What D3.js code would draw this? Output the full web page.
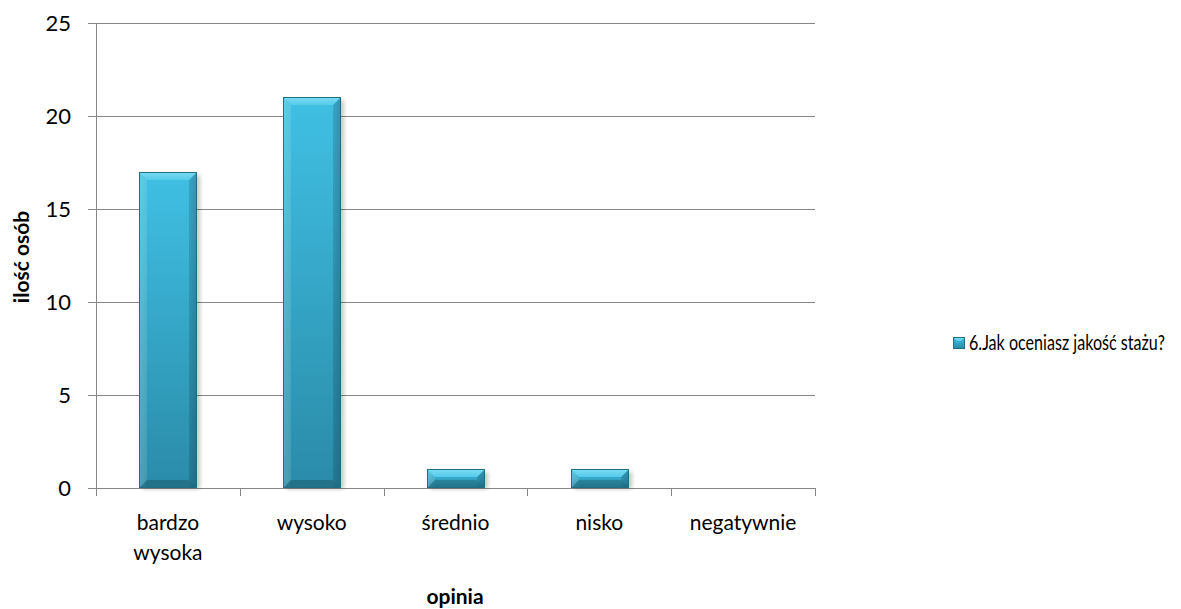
<!DOCTYPE html>
<html>
<head>
<meta charset="utf-8">
<script src="https://cdn.jsdelivr.net/npm/d3@7"></script>
<style>
  html, body { margin: 0; padding: 0; background: #fff; }
  svg { display: block; font-family: Lato, "Open Sans", sans-serif; }
</style>
</head>
<body>
<svg id="chart" width="1181" height="609"></svg>
<script>
// Survey answers: "6.Jak oceniasz jakość stażu?"
const categories = [["bardzo", "wysoka"], ["wysoko"], ["średnio"], ["nisko"], ["negatywnie"]];
const values = [17, 21, 1, 1, 0];
const yTicks = [0, 5, 10, 15, 20, 25];
const seriesName = "6.Jak oceniasz jakość stażu?";
const yTitle = "ilość osób";
const xTitle = "opinia";

const svg = d3.select("#chart");
const plotLeft = 96, plotRight = 815, plotTop = 23, plotBottom = 488;
const fontSize = 21;

const keys = categories.map(c => c.join(" "));
const x = d3.scaleBand().domain(keys).range([plotLeft, plotRight]).paddingInner(0.6).paddingOuter(0.3);
const y = d3.scaleLinear().domain([0, 25]).range([plotBottom, plotTop]);

const defs = svg.append("defs");
const body = defs.append("linearGradient").attr("id", "barBody").attr("x1", 0).attr("y1", 0).attr("x2", 0).attr("y2", 1);
body.append("stop").attr("offset", "0%").attr("stop-color", "#40c0e4");
body.append("stop").attr("offset", "100%").attr("stop-color", "#2a8ba8");
const side = defs.append("linearGradient").attr("id", "barSide").attr("x1", 0).attr("y1", 0).attr("x2", 1).attr("y2", 0);
side.append("stop").attr("offset", "0%").attr("stop-color", "#ffffff").attr("stop-opacity", 0.10);
side.append("stop").attr("offset", "15%").attr("stop-color", "#ffffff").attr("stop-opacity", 0);
side.append("stop").attr("offset", "85%").attr("stop-color", "#000000").attr("stop-opacity", 0);
side.append("stop").attr("offset", "100%").attr("stop-color", "#000000").attr("stop-opacity", 0.12);
const topFace = defs.append("linearGradient").attr("id", "barTop").attr("x1", 0).attr("y1", 0).attr("x2", 0).attr("y2", 1);
topFace.append("stop").attr("offset", "0%").attr("stop-color", "#7fdcf3");
topFace.append("stop").attr("offset", "100%").attr("stop-color", "#55cbea");
defs.append("filter").attr("id", "shadow").attr("x", "-20%").attr("y", "-20%").attr("width", "140%").attr("height", "140%")
  .append("feGaussianBlur").attr("stdDeviation", 2);

// gridlines
svg.append("g").selectAll("line").data(yTicks.filter(t => t > 0)).join("line")
  .attr("x1", plotLeft).attr("x2", plotRight)
  .attr("y1", d => Math.round(y(d)) + 0.5).attr("y2", d => Math.round(y(d)) + 0.5)
  .attr("stroke", "#878787").attr("stroke-width", 1);

// y axis
svg.append("line").attr("x1", plotLeft + 0.5).attr("x2", plotLeft + 0.5).attr("y1", plotTop).attr("y2", plotBottom + 0.5)
  .attr("stroke", "#878787");
svg.append("g").selectAll("line").data(yTicks).join("line")
  .attr("x1", plotLeft - 8).attr("x2", plotLeft)
  .attr("y1", d => Math.round(y(d)) + 0.5).attr("y2", d => Math.round(y(d)) + 0.5)
  .attr("stroke", "#878787");
svg.append("g").selectAll("text").data(yTicks).join("text")
  .attr("x", plotLeft - 25).attr("y", d => y(d)).attr("dy", "0.35em")
  .attr("text-anchor", "end").attr("font-size", fontSize + 1).attr("fill", "#000")
  .text(d => d);

// x axis
svg.append("line").attr("x1", plotLeft).attr("x2", plotRight + 0.5)
  .attr("y1", plotBottom + 0.5).attr("y2", plotBottom + 0.5).attr("stroke", "#878787");
const bounds = keys.map(k => x(k) - x.step() * x.paddingInner() / 2).concat([plotRight]);
svg.append("g").selectAll("line").data(bounds).join("line")
  .attr("x1", d => Math.round(d) + 0.5).attr("x2", d => Math.round(d) + 0.5)
  .attr("y1", plotBottom).attr("y2", plotBottom + 8).attr("stroke", "#878787");

const xl = svg.append("g").selectAll("text").data(categories).join("text")
  .attr("text-anchor", "middle").attr("font-size", fontSize).attr("fill", "#000");
xl.each(function (lines, i) {
  const cx = x(keys[i]) + x.bandwidth() / 2;
  d3.select(this).selectAll("tspan").data(lines).join("tspan")
    .attr("x", cx).attr("y", (d, j) => 530 + j * 30).text(d => d);
});

// bars with bevelled faces
const bars = svg.append("g").selectAll("g").data(values.map((v, i) => ({ v, k: keys[i] })).filter(d => d.v > 0)).join("g");
bars.each(function (d) {
  const g = d3.select(this);
  const x0 = Math.round(x(d.k)), w = Math.round(x.bandwidth());
  const y0 = Math.round(y(d.v)), y1 = plotBottom;
  const h = y1 - y0, b = Math.min(8, h / 2.4);
  g.append("rect").attr("x", x0 + 3).attr("y", y0 + 3).attr("width", w).attr("height", h - 2)
    .attr("fill", "#000").attr("opacity", 0.22).attr("filter", "url(#shadow)");
  g.append("rect").attr("x", x0).attr("y", y0).attr("width", w).attr("height", h).attr("fill", "url(#barBody)");
  g.append("rect").attr("x", x0).attr("y", y0).attr("width", w).attr("height", h).attr("fill", "url(#barSide)");
  // left bevel (lighter)
  g.append("polygon").attr("points", [[x0, y0], [x0 + b, y0 + b], [x0 + b, y1 - b], [x0, y1]].join(" "))
    .attr("fill", "#ffffff").attr("opacity", 0.10);
  // right bevel (darker)
  g.append("polygon").attr("points", [[x0 + w, y0], [x0 + w - b, y0 + b], [x0 + w - b, y1 - b], [x0 + w, y1]].join(" "))
    .attr("fill", "#000000").attr("opacity", 0.12);
  // bottom bevel (darkest)
  g.append("polygon").attr("points", [[x0, y1], [x0 + b, y1 - b], [x0 + w - b, y1 - b], [x0 + w, y1]].join(" "))
    .attr("fill", "#000000").attr("opacity", 0.18);
  // top bevel (lightest)
  g.append("polygon").attr("points", [[x0, y0], [x0 + w, y0], [x0 + w - b, y0 + b], [x0 + b, y0 + b]].join(" "))
    .attr("fill", "url(#barTop)");
  g.append("rect").attr("x", x0 + 0.5).attr("y", y0 + 0.5).attr("width", w - 1).attr("height", h - 1)
    .attr("fill", "none").attr("stroke", "#1f6e84").attr("stroke-width", 1);
});

// axis titles
svg.append("text").attr("transform", "translate(29,257) rotate(-90)")
  .attr("text-anchor", "middle").attr("font-size", fontSize).attr("font-weight", "bold").attr("fill", "#000")
  .text(yTitle);
svg.append("text").attr("x", 455).attr("y", 604)
  .attr("text-anchor", "middle").attr("font-size", fontSize).attr("font-weight", "bold").attr("fill", "#000")
  .text(xTitle);

// legend; the label is narrowed horizontally to fit the space right of the marker
const lg = svg.append("g").attr("transform", "translate(953,337)");
lg.append("rect").attr("x", 0.5).attr("y", 0.5).attr("width", 11).attr("height", 11).attr("fill", "url(#barBody)").attr("stroke", "#1f6e84");
lg.append("polygon").attr("points", "1,1 11,1 8,4 4,4").attr("fill", "url(#barTop)");
const lt = lg.append("text").attr("x", 0).attr("y", 0).attr("dy", "0.35em").attr("font-size", 21).attr("fill", "#000")
  .text(seriesName);
const avail = 1165 - 969;
const len = lt.node().getComputedTextLength();
const sx = Math.min(1, avail / len);
lt.attr("transform", `translate(16,6) scale(${sx},1)`);
</script>
</body>
</html>
